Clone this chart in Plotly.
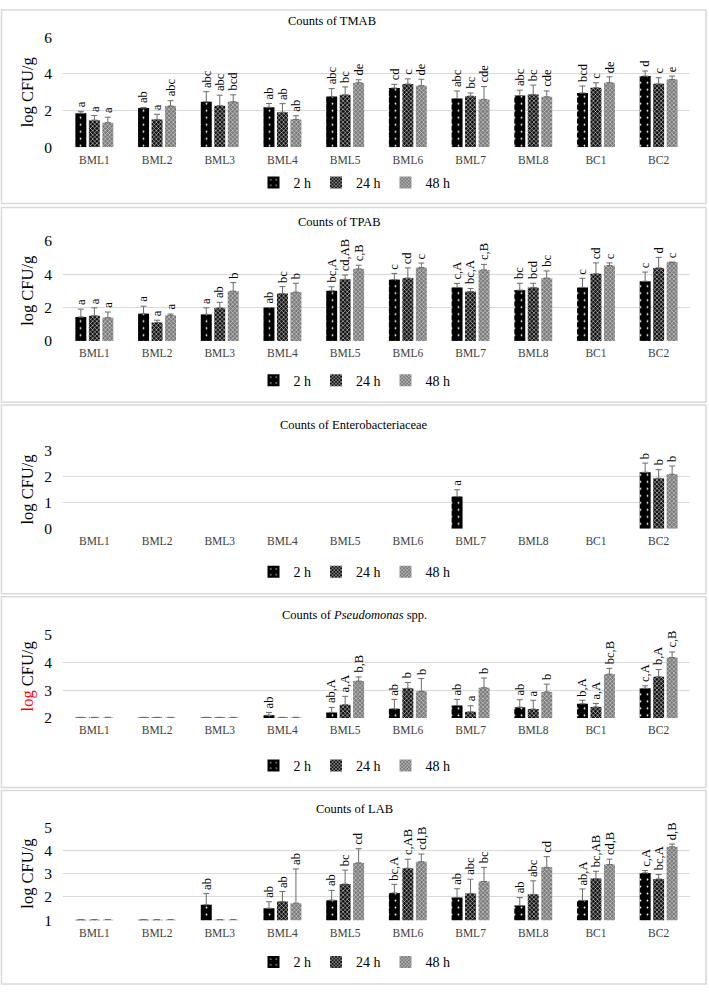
import numpy as np
import plotly.graph_objects as go

# ---------------- data ----------------
CATEGORIES = ["BML1", "BML2", "BML3", "BML4", "BML5", "BML6", "BML7", "BML8", "BC1", "BC2"]
SERIES = ["2 h", "24 h", "48 h"]

# Counts of TMAB
TMAB_2H = [1.86, 2.14, 2.48, 2.18, 2.77, 3.23, 2.66, 2.82, 2.96, 3.88]
TMAB_24H = [1.48, 1.52, 2.27, 1.91, 2.86, 3.45, 2.79, 2.88, 3.25, 3.46]
TMAB_48H = [1.34, 2.25, 2.48, 1.52, 3.52, 3.36, 2.61, 2.75, 3.52, 3.70]
TMAB_ERR_2H = [0.10, 0.03, 0.55, 0.21, 0.43, 0.20, 0.41, 0.29, 0.38, 0.28]
TMAB_ERR_24H = [0.25, 0.28, 0.57, 0.47, 0.43, 0.28, 0.17, 0.51, 0.27, 0.33]
TMAB_ERR_48H = [0.30, 0.29, 0.38, 0.20, 0.16, 0.35, 0.70, 0.32, 0.32, 0.18]
TMAB_LET_2H = ["a", "ab", "abc", "ab", "abc", "cd", "abc", "abc", "bcd", "d"]
TMAB_LET_24H = ["a", "a", "abc", "ab", "bc", "c", "bc", "bc", "c", "c"]
TMAB_LET_48H = ["a", "abc", "bcd", "ab", "de", "de", "cde", "cde", "de", "e"]

# Counts of TPAB
TPAB_2H = [1.43, 1.63, 1.59, 2.00, 3.00, 3.67, 3.20, 3.04, 3.20, 3.57]
TPAB_24H = [1.51, 1.10, 1.98, 2.84, 3.69, 3.76, 2.96, 3.20, 4.02, 4.37]
TPAB_48H = [1.39, 1.53, 2.98, 2.92, 4.31, 4.39, 4.25, 3.76, 4.51, 4.71]
TPAB_ERR_2H = [0.47, 0.45, 0.39, 0.00, 0.24, 0.37, 0.24, 0.41, 0.55, 0.55]
TPAB_ERR_24H = [0.47, 0.14, 0.33, 0.41, 0.25, 0.61, 0.18, 0.25, 0.65, 0.63]
TPAB_ERR_48H = [0.34, 0.08, 0.51, 0.53, 0.22, 0.27, 0.33, 0.43, 0.16, 0.00]
TPAB_LET_2H = ["a", "a", "a", "ab", "bc,A", "c", "c,A", "bc", "c", "c"]
TPAB_LET_24H = ["a", "a", "ab", "bc", "cd,AB", "cd", "bc,A", "bcd", "cd", "d"]
TPAB_LET_48H = ["a", "a", "b", "b", "c,B", "c", "c,B", "bc", "c", "c"]

# Counts of Enterobacteriaceae
ENT_2H = [None, None, None, None, None, None, 1.23, None, None, 2.16]
ENT_24H = [None, None, None, None, None, None, None, None, None, 1.93]
ENT_48H = [None, None, None, None, None, None, None, None, None, 2.08]
ENT_ERR_2H = [None, None, None, None, None, None, 0.26, None, None, 0.35]
ENT_ERR_24H = [None, None, None, None, None, None, None, None, None, 0.33]
ENT_ERR_48H = [None, None, None, None, None, None, None, None, None, 0.32]
ENT_LET_2H = ["", "", "", "", "", "", "a", "", "", "b"]
ENT_LET_24H = ["", "", "", "", "", "", "", "", "", "b"]
ENT_LET_48H = ["", "", "", "", "", "", "", "", "", "b"]

# Counts of Pseudomonas spp.
PSE_2H = [2.02, 2.02, 2.02, 2.10, 2.20, 2.33, 2.45, 2.39, 2.51, 3.07]
PSE_24H = [2.02, 2.02, 2.02, 2.02, 2.48, 3.07, 2.22, 2.32, 2.40, 3.49]
PSE_48H = [2.02, 2.02, 2.02, 2.02, 3.33, 2.96, 3.09, 2.94, 3.58, 4.18]
PSE_ERR_2H = [None, None, None, 0.10, 0.18, 0.34, 0.22, 0.27, 0.13, 0.09]
PSE_ERR_24H = [None, None, None, None, 0.30, 0.21, 0.22, 0.32, 0.12, 0.26]
PSE_ERR_48H = [None, None, None, None, 0.15, 0.46, 0.35, 0.28, 0.21, 0.20]
PSE_LET_2H = ["", "", "", "ab", "ab,A", "ab", "ab", "ab", "b,A", "c,A"]
PSE_LET_24H = ["", "", "", "", "a,A", "b", "a", "a", "a,A", "b,A"]
PSE_LET_48H = ["", "", "", "", "b,B", "b", "b", "b", "bc,B", "c,B"]

# Counts of LAB
LAB_2H = [1.02, 1.02, 1.66, 1.51, 1.86, 2.17, 1.97, 1.63, 1.85, 3.03]
LAB_24H = [1.02, 1.02, 1.02, 1.80, 2.55, 3.23, 2.15, 2.11, 2.79, 2.77]
LAB_48H = [1.02, 1.02, 1.02, 1.73, 3.46, 3.51, 2.66, 3.27, 3.39, 4.15]
LAB_ERR_2H = [None, None, 0.48, 0.28, 0.42, 0.37, 0.38, 0.34, 0.49, 0.10]
LAB_ERR_24H = [None, None, None, 0.43, 0.60, 0.39, 0.61, 0.58, 0.31, 0.19]
LAB_ERR_48H = [None, None, None, 1.47, 0.61, 0.33, 0.61, 0.46, 0.23, 0.12]
LAB_LET_2H = ["", "", "ab", "ab", "ab", "bc,A", "ab", "ab", "ab,A", "c,A"]
LAB_LET_24H = ["", "", "", "ab", "bc", "c,AB", "abc", "abc", "bc,AB", "bc,A"]
LAB_LET_48H = ["", "", "", "ab", "cd", "cd,B", "bc", "cd", "cd,B", "d,B"]

TITLES = [
    "Counts of TMAB",
    "Counts of TPAB",
    "Counts of Enterobacteriaceae",
    "Counts of <i>Pseudomonas</i> spp.",
    "Counts of LAB",
]
Y_TITLES = [
    "log CFU/g",
    "log CFU/g",
    "log CFU/g",
    "<span style='color:#ff0000'>log</span> CFU/g",
    "log CFU/g",
]
Y_RANGES = [(0, 6), (0, 6), (0, 3), (2, 5), (1, 5)]
Y_DTICK = [2, 2, 1, 1, 1]

PANELS = [
    ((TMAB_2H, TMAB_24H, TMAB_48H), (TMAB_ERR_2H, TMAB_ERR_24H, TMAB_ERR_48H), (TMAB_LET_2H, TMAB_LET_24H, TMAB_LET_48H)),
    ((TPAB_2H, TPAB_24H, TPAB_48H), (TPAB_ERR_2H, TPAB_ERR_24H, TPAB_ERR_48H), (TPAB_LET_2H, TPAB_LET_24H, TPAB_LET_48H)),
    ((ENT_2H, ENT_24H, ENT_48H), (ENT_ERR_2H, ENT_ERR_24H, ENT_ERR_48H), (ENT_LET_2H, ENT_LET_24H, ENT_LET_48H)),
    ((PSE_2H, PSE_24H, PSE_48H), (PSE_ERR_2H, PSE_ERR_24H, PSE_ERR_48H), (PSE_LET_2H, PSE_LET_24H, PSE_LET_48H)),
    ((LAB_2H, LAB_24H, LAB_48H), (LAB_ERR_2H, LAB_ERR_24H, LAB_ERR_48H), (LAB_LET_2H, LAB_LET_24H, LAB_LET_48H)),
]

# ---------------- style / layout geometry ----------------
W, H = 709, 994
FONT = "Liberation Serif"
PLOT_X0, PLOT_X1 = 63, 690
PLOT_PY = [(28.7, 140.7), (235.7, 337.7), (449, 528.7), (636.7, 721.3), (832.3, 927)]
BOX_PY = [(1, 198), (202, 400), (403, 595), (598, 792), (795, 992)]
TITLE_PXY = [(332, 12), (339, 217), (354, 423), (354, 617), (354, 814)]
LEGEND_PY = [177, 378, 573, 770, 970]
BAR_OFFSETS = [-0.215, 0.0, 0.215]
BAR_W = 0.175

PATTERNS = [
    dict(shape=".", bgcolor="#000000", fgcolor="#ffffff", size=7, solidity=0.05, fillmode="replace"),
    dict(shape="x", bgcolor="#111111", fgcolor="#ffffff", size=3, solidity=0.3, fillmode="replace"),
    dict(shape="x", bgcolor="#7a7a7a", fgcolor="#d8d8d8", size=3, solidity=0.35, fillmode="replace"),
]
BAR_COLORS = ["#000000", "#111111", "#7a7a7a"]


def px_x(x):
    return x / W


def px_y(y):
    return 1 - y / H


fig = go.Figure()
annotations = []
shapes = []
layout = {}
pos = np.arange(len(CATEGORIES))

for p, (vals3, errs3, lets3) in enumerate(PANELS):
    sfx = "" if p == 0 else str(p + 1)
    xa, ya = "x" + sfx, "y" + sfx
    leg = "legend" + sfx
    for k in range(3):
        vals = vals3[k]
        errs = errs3[k]
        minus = [None if e is None else 0 for e in errs]
        fig.add_trace(go.Bar(
            x=pos + BAR_OFFSETS[k], y=vals, width=BAR_W, name=SERIES[k],
            xaxis=xa, yaxis=ya, legend=leg, showlegend=True,
            marker=dict(color=BAR_COLORS[k], line=dict(width=0), pattern=PATTERNS[k]),
            error_y=dict(type="data", array=errs, arrayminus=minus, symmetric=False,
                         color="#6b6b6b", thickness=1, width=3),
            hoverinfo="skip",
        ))
        for i, lab in enumerate(lets3[k]):
            if not lab or vals[i] is None:
                continue
            top = vals[i] + (errs[i] or 0)
            annotations.append(dict(
                x=pos[i] + BAR_OFFSETS[k], y=top, xref=xa, yref=ya,
                text=lab, textangle=-90, showarrow=False,
                xanchor="center", yanchor="bottom", yshift=2,
                font=dict(family=FONT, size=12.5, color="#000000"),
            ))
    # axes
    y0, y1 = PLOT_PY[p]
    layout["xaxis" + sfx] = dict(
        domain=[px_x(PLOT_X0), px_x(PLOT_X1)], anchor=ya, range=[-0.5, 9.5],
        tickvals=pos, ticktext=CATEGORIES, showgrid=False, zeroline=False,
        showline=False, ticks="", ticklabelstandoff=4,
        tickfont=dict(family=FONT, size=11.5, color="#404040"), fixedrange=True,
    )
    layout["yaxis" + sfx] = dict(
        domain=[px_y(y1), px_y(y0)], anchor=xa, range=list(Y_RANGES[p]),
        dtick=Y_DTICK[p], tick0=0, showgrid=True, gridcolor="#d9d9d9", gridwidth=1,
        zeroline=False, showline=False, ticks="", ticklabelstandoff=10,
        tickfont=dict(family=FONT, size=15.5, color="#000000"),
        title=dict(text=Y_TITLES[p], font=dict(family=FONT, size=16.5, color="#000000"), standoff=6),
        fixedrange=True,
    )
    layout[leg] = dict(
        orientation="h", x=0.5, xanchor="center", y=px_y(LEGEND_PY[p]), yanchor="middle",
        font=dict(family=FONT, size=14, color="#000000"), itemwidth=30,
        bgcolor="rgba(0,0,0,0)", traceorder="normal",
    )
    # title
    tx, ty = TITLE_PXY[p]
    annotations.append(dict(
        x=px_x(tx), y=px_y(ty), xref="paper", yref="paper", text=TITLES[p],
        showarrow=False, xanchor="center", yanchor="middle",
        font=dict(family=FONT, size=12.5, color="#000000"),
    ))
    # box
    b0, b1 = BOX_PY[p]
    shapes.append(dict(
        type="rect", xref="paper", yref="paper",
        x0=px_x(1.5), x1=px_x(706), y0=px_y(b1), y1=px_y(b0),
        line=dict(color="#d9d9d9", width=1.5), fillcolor="rgba(0,0,0,0)", layer="below",
    ))

fig.update_layout(
    width=W, height=H, autosize=False,
    margin=dict(l=0, r=0, t=0, b=0),
    font=dict(family=FONT, color="#000000"),
    paper_bgcolor="#ffffff", plot_bgcolor="#ffffff",
    barmode="overlay", showlegend=True,
    annotations=annotations, shapes=shapes,
    **layout,
)

fig.write_html("out.html")
